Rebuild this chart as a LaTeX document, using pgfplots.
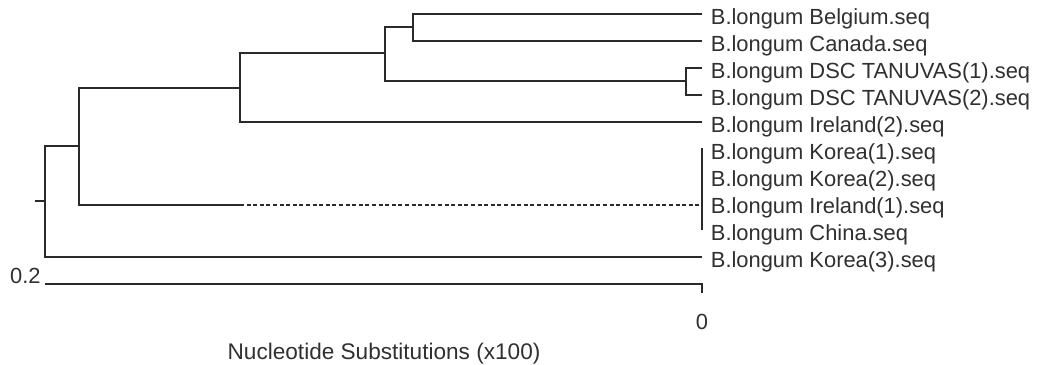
\documentclass[border=0pt]{standalone}
\usepackage{fontspec}
\setmainfont{Liberation Sans}
\usepackage{pgfplots}
\pgfplotsset{compat=1.18}
\definecolor{treeline}{HTML}{2A2A2A}
\definecolor{txt}{HTML}{303030}
\tikzset{lbl/.style={anchor=base west, inner sep=0pt, text=txt, font=\fontsize{10.95}{13}\selectfont}}
\pgfplotsset{br/.style={no marks, solid, line width=1pt, color=treeline}}
\begin{document}
\begin{tikzpicture}
\begin{axis}[
  hide axis,
  scale only axis,
  width=518.5pt, height=182pt,
  x dir=reverse, y dir=reverse,
  xmin=-0.101979, xmax=0.213699,
  ymin=0.48148, ymax=13.96296,
  clip=false,
]
\path (rel axis cs:0,0) rectangle (rel axis cs:1,1);
% root stub
\addplot[br] coordinates {(0.20304,7.93) (0.2000,7.93)};
% root node
\addplot[br] coordinates {(0.18965,5.89) (0.2000,5.89) (0.2000,10) (0,10)};
% node A
\addplot[br] coordinates {(0.14064,3.74) (0.18965,3.74) (0.18965,8.07) (0.14064,8.07)};
\addplot[br, dash pattern=on 2pt off 1.3pt] coordinates {(0.14064,8.07) (0,8.07)};
% node B
\addplot[br] coordinates {(0.09665,2.44) (0.14064,2.44) (0.14064,5) (0,5)};
% node C
\addplot[br] coordinates {(0.08798,1.48) (0.09665,1.48) (0.09665,3.48) (0.00502,3.48)};
% node D
\addplot[br] coordinates {(0,1) (0.08798,1) (0.08798,2) (0,2)};
% node E
\addplot[br] coordinates {(0,3) (0.00502,3) (0.00502,4) (0,4)};
% Korea polytomy
\addplot[br] coordinates {(0,5.97) (0,9.0)};
% scale bar
\addplot[br] coordinates {(0.2000,11) (0,11) (0,11.33)};
% labels
\node[lbl] at (axis cs:-0.00259,1.407) {B.longum Belgium.seq};
\node[lbl] at (axis cs:-0.00259,2.407) {B.longum Canada.seq};
\node[lbl] at (axis cs:-0.00259,3.407) {B.longum DSC TANUVAS(1).seq};
\node[lbl] at (axis cs:-0.00259,4.407) {B.longum DSC TANUVAS(2).seq};
\node[lbl] at (axis cs:-0.00259,5.407) {B.longum Ireland(2).seq};
\node[lbl] at (axis cs:-0.00259,6.407) {B.longum Korea(1).seq};
\node[lbl] at (axis cs:-0.00259,7.407) {B.longum Korea(2).seq};
\node[lbl] at (axis cs:-0.00259,8.407) {B.longum Ireland(1).seq};
\node[lbl] at (axis cs:-0.00259,9.407) {B.longum China.seq};
\node[lbl] at (axis cs:-0.00259,10.407) {B.longum Korea(3).seq};
\node[lbl, anchor=base east] at (axis cs:0.20122,11) {0.2};
\node[lbl, anchor=base] at (axis cs:0,12.70) {0};
\node[lbl, anchor=base, font=\fontsize{11.3}{13}\selectfont] at (axis cs:0.09679,13.81) {Nucleotide Substitutions (x100)};
\end{axis}
\end{tikzpicture}
\end{document}
